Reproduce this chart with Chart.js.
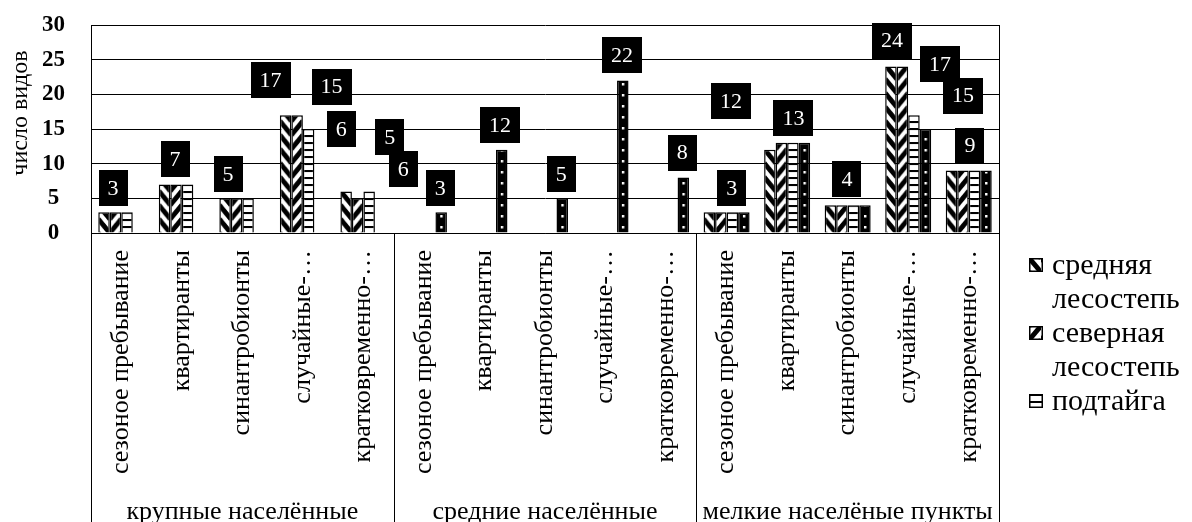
<!DOCTYPE html>
<html>
<head>
<meta charset="utf-8">
<script src="https://cdn.jsdelivr.net/npm/chart.js@4.4.1/dist/chart.umd.min.js"></script>
<style>
  html, body { margin: 0; padding: 0; background: #fff; }
  #wrap { position: relative; width: 1192px; height: 522px; overflow: hidden; }
  #chart { position: absolute; left: 0; top: 0; }
  #legend { position: absolute; left: 1029px; top: 247px; font-family: "Liberation Serif", "Times New Roman", serif; font-size: 30px; line-height: 34px; color: #000; }
  #legend .item { display: flex; align-items: flex-start; }
  #legend canvas { margin-top: 11px; margin-right: 9px; }
</style>
</head>
<body>
<div id="wrap">
  <canvas id="chart" width="1192" height="522"></canvas>
  <div id="legend"></div>
</div>
<script>
// --- data ---
const categories = [
  'сезоное пребывание', 'квартиранты', 'синантробионты', 'случайные-…', 'кратковременно-…',
  'сезоное пребывание', 'квартиранты', 'синантробионты', 'случайные-…', 'кратковременно-…',
  'сезоное пребывание', 'квартиранты', 'синантробионты', 'случайные-…', 'кратковременно-…'
];
const groups = ['крупные населённые', 'средние населённые', 'мелкие населёные пункты'];
const seriesNames = ['средняя лесостепь', 'северная лесостепь', 'подтайга', ''];
const srednyaya = [3, 7, 5, 17, 6, null, null, null, null, null, 3, 12, 4, 24, 9];
const severnaya = [3, 7, 5, 17, 5, null, null, null, null, null, 3, 13, 4, 24, 9];
const podtaiga  = [3, 7, 5, 15, 6, null, null, null, null, null, 3, 13, 4, 17, 9];
const series4   = [null, null, null, null, null, 3, 12, 5, 22, 8, 3, 13, 4, 15, 9];
const yTicks = [0, 5, 10, 15, 20, 25, 30];

// which bars carry a value label: [category, series]
const labelPoints = [[0,1],[1,1],[2,1],[3,0],[3,2],[4,0],[4,1],[4,2],[5,3],[6,3],[7,3],[8,3],[9,3],[10,1],[11,0],[11,1],[12,1],[13,0],[13,2],[13,3],[14,1]];
// label box shift from the bar top, px
const labelShift = [[-2.5,-24],[-1,-25],[-8.5,-24.5],[-15,-35],[23,-42.5],[-5,-62.6],[32,-61.5],[34,-22.6],[-1,-24],[-1.6,-25],[-1,-24.5],[-0.7,-25],[-1,-25],[11,-24],[-39,-49],[12,-25],[5,-26],[1,-26],[26,-50.7],[37.6,-33.5],[7,-25]];

const FONT = '"Liberation Serif", "Times New Roman", serif';
const catPct = 0.76;

// --- fill patterns ---
function makeTile(w, h, draw) {
  const c = document.createElement('canvas');
  c.width = w; c.height = h;
  draw(c.getContext('2d'), w, h);
  return c;
}
const tileBack = makeTile(12, 14, (g, w, h) => {
  g.fillStyle = '#fff'; g.fillRect(0, 0, w, h);
  g.strokeStyle = '#000'; g.lineWidth = 5;
  for (let k = -1; k <= 1; k++) { g.beginPath(); g.moveTo(0, k * h); g.lineTo(w, k * h + h); g.stroke(); }
});
const tileFwd = makeTile(12, 14, (g, w, h) => {
  g.fillStyle = '#fff'; g.fillRect(0, 0, w, h);
  g.strokeStyle = '#000'; g.lineWidth = 5;
  for (let k = -1; k <= 1; k++) { g.beginPath(); g.moveTo(0, k * h + h); g.lineTo(w, k * h); g.stroke(); }
});
const tileHoriz = makeTile(4, 7, (g, w, h) => {
  g.fillStyle = '#fff'; g.fillRect(0, 0, w, h);
  g.fillStyle = '#000'; g.fillRect(0, 0, w, 2);
});
const tileDots = makeTile(12, 11, (g, w, h) => {
  g.fillStyle = '#000'; g.fillRect(0, 0, w, h);
  g.fillStyle = '#fff'; g.fillRect(5, 4, 2.5, 2.5);
});
const tiles = [tileBack, tileFwd, tileHoriz, tileDots];

function barFill(dsIndex) {
  const tile = tiles[dsIndex];
  return (ctx) => {
    const chart = ctx.chart;
    const pat = chart.ctx.createPattern(tile, 'repeat');
    const xs = chart.scales.x;
    if (ctx.type !== 'data' || !xs || !chart.chartArea) return pat;
    const cw = xs.getPixelForValue(1) - xs.getPixelForValue(0);
    const w = cw * catPct / 4;
    const left = xs.getPixelForValue(ctx.dataIndex) - 2 * w + dsIndex * w;
    const sx = dsIndex === 2 ? 1 : w / tile.width;
    pat.setTransform(new DOMMatrix().translate(left, chart.chartArea.bottom).scale(sx, 1));
    return pat;
  };
}

// --- labels, group axis, frame ---
const decorPlugin = {
  id: 'decor',
  afterDatasetsDraw(chart) {
    const g = chart.ctx;
    g.save();
    g.font = '22px ' + FONT;
    g.textAlign = 'center';
    g.textBaseline = 'middle';
    labelPoints.forEach(([cat, ds], i) => {
      const el = chart.getDatasetMeta(ds).data[cat];
      const val = chart.data.datasets[ds].data[cat];
      const text = String(val);
      const x = el.x + labelShift[i][0];
      const y = el.y + labelShift[i][1];
      const bw = g.measureText(text).width + 18;
      g.fillStyle = '#000';
      g.fillRect(Math.round(x - bw / 2), Math.round(y - 18), Math.round(bw), 36);
      g.fillStyle = '#fff';
      g.fillText(text, x, y + 1);
    });
    g.restore();
  },
  afterDraw(chart) {
    const g = chart.ctx;
    const area = chart.chartArea;
    const xs = chart.scales.x;
    const H = chart.height;
    g.save();
    g.strokeStyle = '#000';
    g.lineWidth = 1;
    const half = (xs.getPixelForValue(1) - xs.getPixelForValue(0)) / 2;
    const bounds = [area.left, xs.getPixelForValue(5) - half, xs.getPixelForValue(10) - half, area.right];
    bounds.forEach((bx, i) => {
      const px = Math.round(bx) + 0.5;
      g.beginPath();
      g.moveTo(px, (i === 0 || i === 3) ? area.top : area.bottom);
      g.lineTo(px, H);
      g.stroke();
    });
    g.fillStyle = '#000';
    g.font = '26px ' + FONT;
    g.textAlign = 'center';
    g.textBaseline = 'alphabetic';
    groups.forEach((name, i) => {
      g.fillText(name, (bounds[i] + bounds[i + 1]) / 2, 519);
    });
    g.translate(21, 113);
    g.rotate(-Math.PI / 2);
    g.font = '24px ' + FONT;
    g.textBaseline = 'middle';
    g.fillText('число видов', 0, 0);
    g.restore();
  }
};

const datasets = [srednyaya, severnaya, podtaiga, series4].map((values, i) => ({
  label: seriesNames[i],
  data: values,
  backgroundColor: barFill(i),
  borderColor: '#000',
  borderWidth: 1.5,
  categoryPercentage: catPct,
  barPercentage: 1
}));

new Chart(document.getElementById('chart'), {
  type: 'bar',
  data: { labels: categories, datasets },
  options: {
    responsive: false,
    animation: false,
    events: [],
    layout: { autoPadding: false, padding: { top: 25, right: 193, left: 0, bottom: 0 } },
    plugins: { legend: { display: false }, tooltip: { enabled: false } },
    scales: {
      x: {
        grid: { display: false },
        border: { display: true, color: '#000', width: 1 },
        ticks: {
          color: '#000', font: { family: FONT, size: 26 },
          minRotation: 90, maxRotation: 90, autoSkip: false, padding: 9
        },
        afterFit: (s) => { s.height = 289; s.paddingLeft = 0; s.paddingRight = 0; }
      },
      y: {
        min: 0, max: 30,
        afterBuildTicks: (s) => { s.ticks = yTicks.map(v => ({ value: v })); },
        grid: { color: '#000', lineWidth: 1, drawTicks: false },
        border: { display: true, color: '#000', width: 1 },
        ticks: {
          color: '#000', font: { family: FONT, size: 23, weight: 'bold' },
          crossAlign: 'center', padding: 26
        },
        afterFit: (s) => { s.width = 91; s.paddingTop = 0; s.paddingBottom = 0; }
      }
    }
  },
  plugins: [decorPlugin]
});

// legend (html)
const legendEl = document.getElementById('legend');
seriesNames.slice(0, 3).forEach((name, i) => {
  const item = document.createElement('div');
  item.className = 'item';
  const mk = document.createElement('canvas');
  mk.width = 14; mk.height = 14;
  const g = mk.getContext('2d');
  g.fillStyle = g.createPattern(tiles[i], 'repeat');
  g.fillRect(0, 0, 14, 14);
  g.strokeStyle = '#000'; g.lineWidth = 1.5;
  g.strokeRect(0.75, 0.75, 12.5, 12.5);
  const span = document.createElement('span');
  span.innerHTML = name.split(' ').join('<br>');
  item.appendChild(mk);
  item.appendChild(span);
  legendEl.appendChild(item);
});
</script>
</body>
</html>
